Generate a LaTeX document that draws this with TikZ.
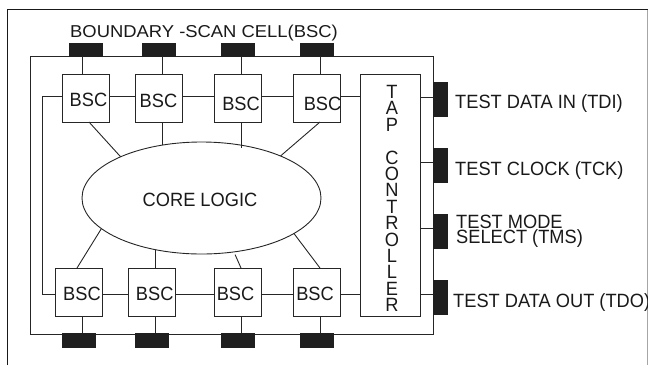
\documentclass[tikz,border=0pt]{standalone}
\usepackage{fontspec}
\newfontfamily\lblfont{Liberation Sans}[FakeStretch=0.95]
\newfontfamily\topfont{Liberation Sans}[FakeStretch=1.07]
\usetikzlibrary{shapes.geometric}
\begin{document}
\begin{tikzpicture}[x=1pt,y=-1pt,
  wire/.style={line width=0.9pt,draw=black!85},
  bscbox/.style={draw=black!85,line width=0.9pt,minimum width=47pt,minimum height=48pt,inner sep=0pt,outer sep=0pt},
  pinh/.style={fill=black!88,draw=black!88,line width=0.5pt,minimum width=33pt,minimum height=13pt,inner sep=0pt,outer sep=0pt},
  pinv/.style={fill=black!88,draw=black!88,line width=0.5pt,minimum width=14pt,minimum height=34pt,inner sep=0pt,outer sep=0pt},
  lbl/.style={font=\lblfont\fontsize{19.2}{15.3}\selectfont,inner sep=0pt,text=black!90},
]
\useasboundingbox (0,0) rectangle (648,365);
% outer frame
\draw[line width=1.3pt,black!90] (7.5,365) -- (7.5,9.5) -- (648,9.5);
\draw[line width=0.8pt,black!35] (647.6,9.5) -- (647.6,365);
% chip
\node[draw=black!85,line width=0.9pt,minimum width=403pt,minimum height=278pt,inner sep=0pt,outer sep=0pt] (chip) at (231.5,195) {};
% top pins
\node[pinh] (p1) at (85.5,49.5) {};
\node[pinh] (p2) at (158.5,49.5) {};
\node[pinh] (p3) at (237.5,49.5) {};
\node[pinh] (p4) at (316.5,49.5) {};
% bottom pins
\node[pinh,minimum height=14pt] (q1) at (79,340) {};
\node[pinh,minimum height=14pt] (q2) at (151.5,340) {};
\node[pinh,minimum height=14pt] (q3) at (237.5,340) {};
\node[pinh,minimum height=14pt] (q4) at (316.5,340) {};
% right pins
\node[pinv] (pTDI) at (440,99) {};
\node[pinv] (pTCK) at (440,165.5) {};
\node[pinv] (pTMS) at (440,231) {};
\node[pinv] (pTDO) at (440,297.5) {};
% BSC boxes
\node[bscbox] (t1) at (86,98) {};
\node[bscbox] (t2) at (158.5,98) {};
\node[bscbox] (t3) at (237.5,98) {};
\node[bscbox] (t4) at (316.5,98) {};
\node[bscbox] (b1) at (79,292) {};
\node[bscbox] (b2) at (151.5,292) {};
\node[bscbox] (b3) at (237.5,292) {};
\node[bscbox] (b4) at (316.5,292) {};
\node[lbl] (t1l) at (88.5,100.3) {BSC};
\node[lbl] (t2l) at (158.5,101) {BSC};
\node[lbl] (t3l) at (241,104) {BSC};
\node[lbl] (t4l) at (322.5,104) {BSC};
\node[lbl] (b1l) at (82,294) {BSC};
\node[lbl] (b2l) at (154.7,294) {BSC};
\node[lbl] (b3l) at (235.5,294) {BSC};
\node[lbl] (b4l) at (315,294) {BSC};
% TAP controller
\node[draw=black!85,line width=0.9pt,minimum width=60pt,minimum height=242pt,inner sep=0pt,outer sep=0pt] (tap) at (390,195) {};
\node[lbl,align=center,anchor=north,font=\lblfont\fontsize{19.2}{16.4}\selectfont] (taptxt) at (392,85)
  {T\\A\\P\\[16.4pt]C\\O\\N\\T\\R\\O\\L\\L\\E\\R};
% core logic
\node[ellipse,draw=black!85,line width=0.9pt,minimum width=239pt,minimum height=112pt,inner sep=0pt,outer sep=0pt] (core) at (201.5,198) {};
\node[lbl] (coretxt) at (200,200) {CORE LOGIC};
% pin to cell wires
\draw[wire] ([xshift=-3.2pt]p1.south) -- ([xshift=-3.2pt]p1.south |- t1.north);
\draw[wire] ([xshift=3.8pt]p2.south) -- ([xshift=3.8pt]p2.south |- t2.north);
\draw[wire] ([xshift=3.5pt]p3.south) -- ([xshift=3.5pt]p3.south |- t3.north);
\draw[wire] ([xshift=4.2pt]p4.south) -- ([xshift=4.2pt]p4.south |- t4.north);
\draw[wire] ([xshift=3.7pt]q1.north) -- ([xshift=3.7pt]q1.north |- b1.south);
\draw[wire] ([xshift=3.5pt]q2.north) -- ([xshift=3.5pt]q2.north |- b2.south);
\draw[wire] ([xshift=3.5pt]q3.north) -- ([xshift=3.5pt]q3.north |- b3.south);
\draw[wire] ([xshift=4.2pt]q4.north) -- ([xshift=4.2pt]q4.north |- b4.south);
% scan chain
\draw[wire] ([yshift=2pt]t4.east) -- ([yshift=2pt]t4.east -| tap.west);
\draw[wire] ([yshift=2pt]t3.east) -- ([yshift=2pt]t4.west);
\draw[wire] ([yshift=2pt]t2.east) -- ([yshift=2pt]t3.west);
\draw[wire] ([yshift=2pt]t1.east) -- ([yshift=2pt]t2.west);
\draw[wire] ([yshift=2pt]t1.west) -- ++(-20,0) |- ([yshift=-2pt]b1.west);
\draw[wire] ([yshift=-2pt]b1.east) -- ([yshift=-2pt]b2.west);
\draw[wire] ([yshift=-2pt]b2.east) -- ([yshift=-2pt]b3.west);
\draw[wire] ([yshift=-2pt]b3.east) -- ([yshift=-2pt]b4.west);
\draw[wire] ([yshift=-2pt]b4.east) -- ([yshift=-2pt]b4.east -| tap.west);
% TAP to pins
\draw[wire] ([yshift=2pt]pTDI.west) -- ([yshift=2pt]pTDI.west -| tap.east);
\draw[wire] ([yshift=3.5pt]pTCK.west) -- ([yshift=3.5pt]pTCK.west -| tap.east);
\draw[wire] ([yshift=3pt]pTMS.west) -- ([yshift=3pt]pTMS.west -| tap.east);
\draw[wire] ([yshift=3.5pt]pTDO.west) -- ([yshift=3.5pt]pTDO.west -| tap.east);
% cells to core logic
\draw[wire] ([xshift=3pt]t1.south) -- (core.153.3);
\draw[wire] ([xshift=3.5pt]t2.south) -- ([xshift=3.5pt]t2.south |- core.126.7);
\draw[wire] ([xshift=3.5pt]t3.south) -- ([xshift=3.5pt,yshift=-3pt]t3.south |- core.53.3);
\draw[wire] ([xshift=3.5pt]t4.south) -- (core.28.4);
\draw[wire] ([xshift=-2pt]b1.north) -- (core.197.8);
\draw[wire] ([xshift=3.5pt]b2.north) -- ([xshift=3.5pt]b2.north |- core.228);
\draw[wire,shorten >=3pt] ([xshift=3.5pt]b3.north) -- (core.-59);
\draw[wire] ([xshift=3.5pt]b4.north) -- (core.-21.5);
% labels
\node[font=\topfont\fontsize{17.2}{20}\selectfont,inner sep=0pt,anchor=base west,text=black!90] (ttl) at (70,37.3) {BOUNDARY -SCAN CELL(BSC)};
\node[lbl,anchor=base west] (ltdi) at (455,108) {TEST DATA IN (TDI)};
\node[lbl,anchor=base west] (ltck) at (455,175) {TEST CLOCK (TCK)};
\node[lbl,anchor=north west,align=left] (ltms) at (456,215) {TEST MODE\\SELECT (TMS)};
\node[lbl,anchor=base west] (ltdo) at (453,307) {TEST DATA OUT (TDO)};
\end{tikzpicture}
\end{document}
